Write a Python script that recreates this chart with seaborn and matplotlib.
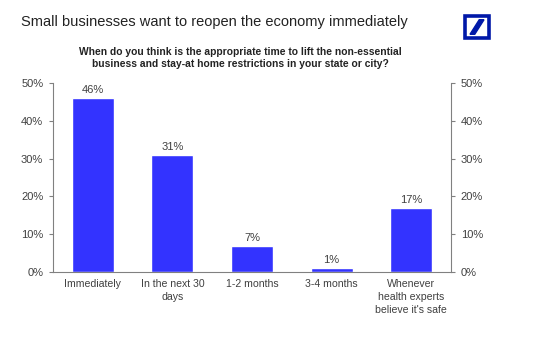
import matplotlib
matplotlib.use("Agg")
import matplotlib.pyplot as plt
import matplotlib.patches as mpatches
import seaborn as sns
import pandas as pd

categories = ["Immediately", "In the next 30\ndays", "1-2 months", "3-4 months",
              "Whenever\nhealth experts\nbelieve it's safe"]
shares = [46, 31, 7, 1, 17]
y_ticks = [0, 10, 20, 30, 40, 50]

sns.set_theme(style="white")
plt.rcParams["font.family"] = ["Liberation Sans", "DejaVu Sans"]

df = pd.DataFrame({"when": categories, "share": shares})

fig = plt.figure(figsize=(5.55, 3.5), dpi=100)
ax = fig.add_axes([53 / 555, 1 - 272 / 350, (451 - 53) / 555, (272 - 83) / 350])

sns.barplot(data=df, x="when", y="share", color="#3333FF", saturation=1,
            width=0.53, ax=ax)

grey = "#404040"
ax.set_ylim(0, 50)
ax.set_xlim(-0.5, len(categories) - 0.5)
ax.set_yticks(y_ticks)
ax.set_yticklabels([f"{t}%" for t in y_ticks], color=grey, fontsize=8)
ax.set_xlabel("")
ax.set_ylabel("")
ax.tick_params(axis="x", length=0, pad=5, labelsize=7.6, colors=grey)
ax.tick_params(axis="y", length=3, width=0.8, color="#808080", pad=4, left=True)
for lbl in ax.get_xticklabels():
    lbl.set_verticalalignment("top")
    lbl.set_linespacing(1.38)

for s in ["top", "right"]:
    ax.spines[s].set_visible(False)
for s in ["left", "bottom"]:
    ax.spines[s].set_color("#808080")
    ax.spines[s].set_linewidth(0.8)

# secondary axis on the right with the same scale
ax2 = ax.twinx()
ax2.set_ylim(0, 50)
ax2.set_yticks(y_ticks)
ax2.set_yticklabels([f"{t}%" for t in y_ticks], color=grey, fontsize=8)
ax2.tick_params(axis="y", length=3, width=0.8, color="#808080", pad=4, right=True)
for s in ["top", "left", "bottom"]:
    ax2.spines[s].set_visible(False)
ax2.spines["right"].set_color("#808080")
ax2.spines["right"].set_linewidth(0.8)
ax2.grid(False)

for i, v in enumerate(shares):
    ax.text(i, v + 0.8, f"{v}%", ha="center", va="bottom", fontsize=8, color=grey)

fig.text(21 / 555, 1 - 22 / 350, "Small businesses want to reopen the economy immediately",
         fontsize=10.5, color="#222222", va="center", ha="left")
fig.text(240 / 555, 1 - 58 / 350,
         "When do you think is the appropriate time to lift the non-essential\n"
         "business and stay-at home restrictions in your state or city?",
         fontsize=7.4, fontweight="bold", color="#222222", ha="center", va="center",
         linespacing=1.35)

# corporate logo: framed square with a diagonal stroke
logo_ax = fig.add_axes([463 / 555, 1 - 40 / 350, 28 / 555, 26 / 350])
logo_ax.set_xlim(0, 1)
logo_ax.set_ylim(0, 1)
logo_ax.axis("off")
logo_ax.add_patch(mpatches.Rectangle((0.06, 0.06), 0.88, 0.88, fill=False,
                                     edgecolor="#0018A8", linewidth=2.6))
logo_ax.add_patch(mpatches.Polygon([[0.25, 0.22], [0.42, 0.22], [0.75, 0.78], [0.58, 0.78]],
                                   closed=True, color="#0018A8"))

fig.savefig("out.png", dpi=100, facecolor="white")
